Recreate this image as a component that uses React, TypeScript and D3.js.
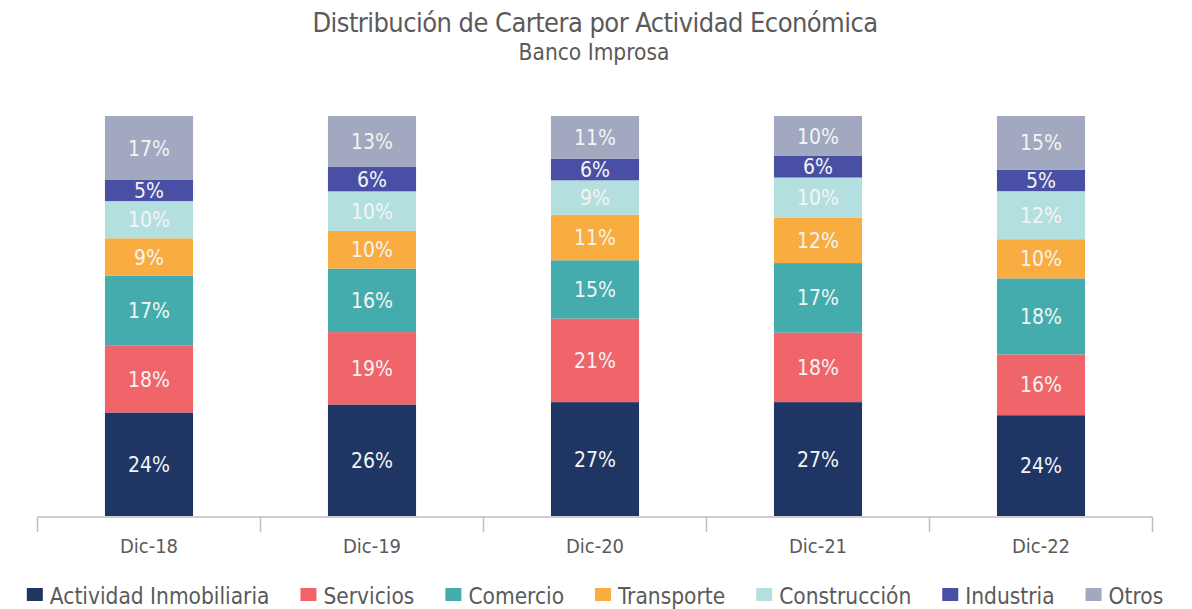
import React, { useEffect, useRef } from "react";
import * as d3 from "d3";

// ---- data ----
const categories = ["Dic-18", "Dic-19", "Dic-20", "Dic-21", "Dic-22"];
const seriesNames = [
  "Actividad Inmobiliaria",
  "Servicios",
  "Comercio",
  "Transporte",
  "Construcción",
  "Industria",
  "Otros",
];
const seriesColors = ["#1f3564", "#ef6569", "#45acae", "#f9ac3f", "#b3e0df", "#4a4fa6", "#a1a8bf"];

// segment sizes as drawn (share of each bar)
const actividadInmobiliaria = [25.9, 27.9, 28.5, 28.5, 25.2];
const servicios = [16.7, 18.1, 20.9, 17.4, 15.2];
const comercio = [17.5, 15.9, 14.6, 17.4, 19.0];
const transporte = [9.4, 9.4, 11.4, 11.4, 9.8];
const construccion = [9.3, 9.9, 8.6, 10.0, 12.0];
const industria = [5.3, 6.1, 5.4, 5.4, 5.4];
const otros = [16.0, 12.75, 10.7, 10.0, 13.4];

// printed labels
const actividadInmobiliariaLabels = ["24%", "26%", "27%", "27%", "24%"];
const serviciosLabels = ["18%", "19%", "21%", "18%", "16%"];
const comercioLabels = ["17%", "16%", "15%", "17%", "18%"];
const transporteLabels = ["9%", "10%", "11%", "12%", "10%"];
const construccionLabels = ["10%", "10%", "9%", "10%", "12%"];
const industriaLabels = ["5%", "6%", "6%", "6%", "5%"];
const otrosLabels = ["17%", "13%", "11%", "10%", "15%"];

const titleText = "Distribución de Cartera por Actividad Económica";
const subtitleText = "Banco Improsa";

const W = 1192;
const H = 609;
const FONT = "'DejaVu Sans Condensed', 'Liberation Sans Narrow', 'Noto Sans', sans-serif";
const TEXT = "#5a5a5a";

export default function App() {
  const ref = useRef<SVGSVGElement | null>(null);

  useEffect(() => {
    const svg = d3.select(ref.current);
    svg.selectAll("*").remove();

    const valueSeries = [actividadInmobiliaria, servicios, comercio, transporte, construccion, industria, otros];
    const labelSeries = [
      actividadInmobiliariaLabels,
      serviciosLabels,
      comercioLabels,
      transporteLabels,
      construccionLabels,
      industriaLabels,
      otrosLabels,
    ];

    const rows = categories.map((c, i) => {
      const r: any = { cat: c };
      seriesNames.forEach((s, k) => (r[s] = valueSeries[k][i]));
      return r;
    });

    const stack = d3.stack<any>().keys(seriesNames).offset(d3.stackOffsetExpand);
    const stacked = stack(rows);

    const x = d3
      .scaleBand<string>()
      .domain(categories)
      .range([37.5, 1152.5])
      .paddingInner(0.605)
      .paddingOuter(0.3025);
    const y = d3.scaleLinear().domain([0, 1]).range([516, 116]);
    const color = d3.scaleOrdinal<string, string>().domain(seriesNames).range(seriesColors);

    // title
    svg
      .append("text")
      .attr("x", 595)
      .attr("y", 31.5)
      .attr("text-anchor", "middle")
      .attr("font-family", FONT)
      .attr("font-size", 27)
      .attr("letter-spacing", -0.55)
      .attr("fill", TEXT)
      .text(titleText);
    svg
      .append("text")
      .attr("x", 594)
      .attr("y", 60)
      .attr("text-anchor", "middle")
      .attr("font-family", FONT)
      .attr("font-size", 22.5)
      .attr("fill", TEXT)
      .text(subtitleText);

    // bars
    const layers = svg
      .append("g")
      .selectAll("g")
      .data(stacked)
      .join("g")
      .attr("fill", (d) => color(d.key));
    layers
      .selectAll("rect")
      .data((d) => d.map((p) => ({ p, key: d.key })))
      .join("rect")
      .attr("x", (d) => x(d.p.data.cat)!)
      .attr("width", x.bandwidth())
      .attr("y", (d) => y(d.p[1]))
      .attr("height", (d) => y(d.p[0]) - y(d.p[1]));

    // labels
    const lab = svg.append("g");
    stacked.forEach((layer, k) => {
      layer.forEach((p, i) => {
        lab
          .append("text")
          .attr("x", x(p.data.cat)! + x.bandwidth() / 2)
          .attr("y", (y(p[0]) + y(p[1])) / 2)
          .attr("dy", "0.36em")
          .attr("text-anchor", "middle")
          .attr("font-family", FONT)
          .attr("font-size", 21)
          .attr("fill", "#f4f4f4")
          .text(labelSeries[k][i]);
      });
    });

    // axis
    const axis = svg.append("g");
    const [r0, r1] = x.range();
    axis
      .append("line")
      .attr("x1", r0)
      .attr("x2", r1)
      .attr("y1", 517)
      .attr("y2", 517)
      .attr("stroke", "#bfbfbf")
      .attr("stroke-width", 1.5);
    const tickXs = d3.range(categories.length + 1).map((i) => r0 + i * x.step());
    axis
      .selectAll("line.tick")
      .data(tickXs)
      .join("line")
      .attr("class", "tick")
      .attr("x1", (d) => d)
      .attr("x2", (d) => d)
      .attr("y1", 517)
      .attr("y2", 532)
      .attr("stroke", "#bfbfbf")
      .attr("stroke-width", 1.5);
    axis
      .selectAll("text")
      .data(categories)
      .join("text")
      .attr("x", (d) => x(d)! + x.bandwidth() / 2)
      .attr("y", 553)
      .attr("text-anchor", "middle")
      .attr("font-family", FONT)
      .attr("font-size", 20)
      .attr("fill", TEXT)
      .text((d) => d);

    // legend
    const leg = svg.append("g");
    const items = seriesNames.map((name) => {
      const g = leg.append("g");
      g.append("rect").attr("width", 16).attr("height", 13).attr("y", -16).attr("fill", color(name));
      const t = g
        .append("text")
        .attr("x", 23)
        .attr("y", 0)
        .attr("font-family", FONT)
        .attr("font-size", 22.5)
        .attr("fill", TEXT)
        .text(name);
      const w = 23 + (t.node() as SVGTextElement).getComputedTextLength();
      return { g, w };
    });
    const gap = 31;
    const total = d3.sum(items, (d) => d.w) + gap * (items.length - 1);
    let cx = 595 - total / 2;
    items.forEach((it) => {
      it.g.attr("transform", `translate(${cx},${604})`);
      cx += it.w + gap;
    });
  }, []);

  return (
    <svg
      ref={ref}
      width={W}
      height={H}
      style={{ position: "absolute", left: 0, top: 0, background: "#fff" }}
    />
  );
}
